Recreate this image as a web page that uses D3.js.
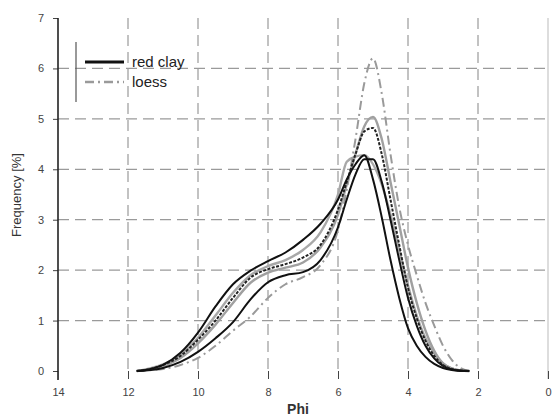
<!DOCTYPE html>
<html><head><meta charset="utf-8">
<script src="https://cdn.jsdelivr.net/npm/d3@7"></script>
<style>body{margin:0;background:#fff}svg{display:block}</style>
</head><body>
<svg id="c" width="556" height="417"></svg>
<script>
const phi = [11.75,11.5,11,10.5,10,9.5,9,8.5,8,7.5,7,6.5,6,5.75,5.5,5.25,5,4.75,4.5,4.25,4,3.75,3.5,3.25,3,2.75,2.5,2.25];
const redClay1 = [0,0.02,0.12,0.36,0.76,1.28,1.72,1.99,2.18,2.35,2.6,2.92,3.4,3.8,4.1,4.28,3.8,3.05,2.2,1.45,0.85,0.5,0.28,0.14,0.06,0.02,0,0];
const redClay2 = [0,0.02,0.12,0.3,0.62,1.0,1.45,1.85,2.02,2.12,2.25,2.5,3.2,3.75,4.3,4.75,4.82,4.3,3.4,2.5,1.65,1.05,0.6,0.3,0.12,0.04,0.01,0];
const redClay3 = [0,0.01,0.06,0.18,0.38,0.65,0.97,1.42,1.76,1.9,1.96,2.2,2.85,3.4,3.9,4.2,4.2,3.75,3.0,2.2,1.45,0.9,0.5,0.25,0.1,0.03,0.01,0];
const loess1 = [0,0.02,0.1,0.26,0.55,0.92,1.35,1.75,1.95,2.05,2.15,2.45,3.1,3.7,4.3,4.85,5.04,4.6,3.75,2.9,2.05,1.35,0.8,0.4,0.15,0.05,0.01,0];
const loess2 = [0,0.01,0.04,0.12,0.26,0.5,0.8,1.08,1.45,1.72,1.86,2.1,2.8,3.6,4.6,5.7,6.2,5.5,4.3,3.25,2.5,1.9,1.35,0.9,0.5,0.22,0.06,0];
const loess3 = [0,0.03,0.13,0.32,0.66,1.1,1.55,1.9,2.08,2.2,2.4,2.75,3.5,4.15,4.25,4.28,4.1,3.7,3.1,2.4,1.7,1.1,0.65,0.35,0.15,0.05,0.01,0];
const xTicks = [14,12,10,8,6,4,2,0];
const yTicks = [0,1,2,3,4,5,6,7];
const legendLabels = ["red clay","loess"];

const svg = d3.select("#c");
const x = d3.scaleLinear().domain([14,0]).range([58,548]);
const y = d3.scaleLinear().domain([0,7]).range([371,18]);
const gridCol = "#9a9a9a";
const font = "Liberation Sans, Arial, sans-serif";

// grid
svg.append("g").selectAll("line").data(yTicks.filter(d=>d>0&&d<7)).join("line")
  .attr("x1",x(14)).attr("x2",x(0)).attr("y1",d=>y(d)).attr("y2",d=>y(d))
  .attr("stroke",gridCol).attr("stroke-width",1.2).attr("stroke-dasharray","11,6");
svg.append("g").selectAll("line").data(xTicks.filter(d=>d>0&&d<14)).join("line")
  .attr("x1",d=>x(d)).attr("x2",d=>x(d)).attr("y1",y(7)).attr("y2",y(0))
  .attr("stroke",gridCol).attr("stroke-width",1.2).attr("stroke-dasharray","11,6");
svg.append("line").attr("x1",x(0)).attr("x2",x(0)).attr("y1",y(7)).attr("y2",y(0)+8)
  .attr("stroke","#bbb").attr("stroke-width",1);

// axes
const yAxis = d3.axisLeft(y).tickValues(yTicks).tickFormat(d3.format("d")).tickSize(5).tickPadding(9);
const gy = svg.append("g").attr("transform",`translate(${x(14)},0)`).call(yAxis);
gy.select(".domain").remove();
gy.selectAll("line").attr("stroke","#444");
gy.selectAll("text").attr("font-family",font).attr("font-size",11).attr("fill","#444");
svg.append("line").attr("x1",x(14)).attr("x2",x(14)).attr("y1",y(7)).attr("y2",y(0)+9).attr("stroke","#222").attr("stroke-width",1.6);

const xAxis = d3.axisBottom(x).tickValues(xTicks).tickFormat(d3.format("d")).tickSize(8).tickPadding(9);
const gx = svg.append("g").attr("transform",`translate(0,${y(0)})`).call(xAxis);
gx.select(".domain").remove();
gx.selectAll("line").attr("stroke","#444");
gx.selectAll("text").attr("font-family",font).attr("font-size",11).attr("fill","#444");

svg.append("text").attr("x",298).attr("y",414).attr("text-anchor","middle")
  .attr("font-family",font).attr("font-size",14).attr("font-weight","bold").attr("fill","#333").text("Phi");
svg.append("text").attr("transform","translate(21,195) rotate(-90)").attr("text-anchor","middle")
  .attr("font-family",font).attr("font-size",13).attr("fill","#333").text("Frequency [%]");

// curves
const line = d3.line().x((d,i)=>x(phi[i])).y(d=>y(d)).curve(d3.curveMonotoneX);
const series = [
  {v:loess3, c:"#a8a8a8", w:2.4, dash:null},
  {v:loess1, c:"#a0a0a0", w:2.4, dash:null},
  {v:loess2, c:"#9a9a9a", w:2.0, dash:"9,4,2,4"},
  {v:redClay3, c:"#111", w:2.0, dash:null},
  {v:redClay2, c:"#222", w:2.0, dash:"3,1.5"},
  {v:redClay1, c:"#111", w:2.0, dash:null}
];
svg.append("g").selectAll("path").data(series).join("path")
  .attr("d",d=>line(d.v)).attr("fill","none").attr("stroke",d=>d.c)
  .attr("stroke-width",d=>d.w).attr("stroke-dasharray",d=>d.dash)
  .attr("stroke-linejoin","round");

// legend
const lg = svg.append("g");
lg.append("line").attr("x1",76).attr("x2",76).attr("y1",42).attr("y2",102).attr("stroke","#555").attr("stroke-width",1.2);
lg.append("line").attr("x1",85).attr("x2",124).attr("y1",62).attr("y2",62).attr("stroke","#111").attr("stroke-width",3);
lg.append("line").attr("x1",85).attr("x2",124).attr("y1",82).attr("y2",82).attr("stroke","#9a9a9a").attr("stroke-width",2.4).attr("stroke-dasharray","9,4,2,4");
lg.selectAll("text").data(legendLabels).join("text")
  .attr("x",132).attr("y",(d,i)=>67+i*20)
  .attr("font-family",font).attr("font-size",15).attr("fill","#222").text(d=>d);
</script>
</body></html>
